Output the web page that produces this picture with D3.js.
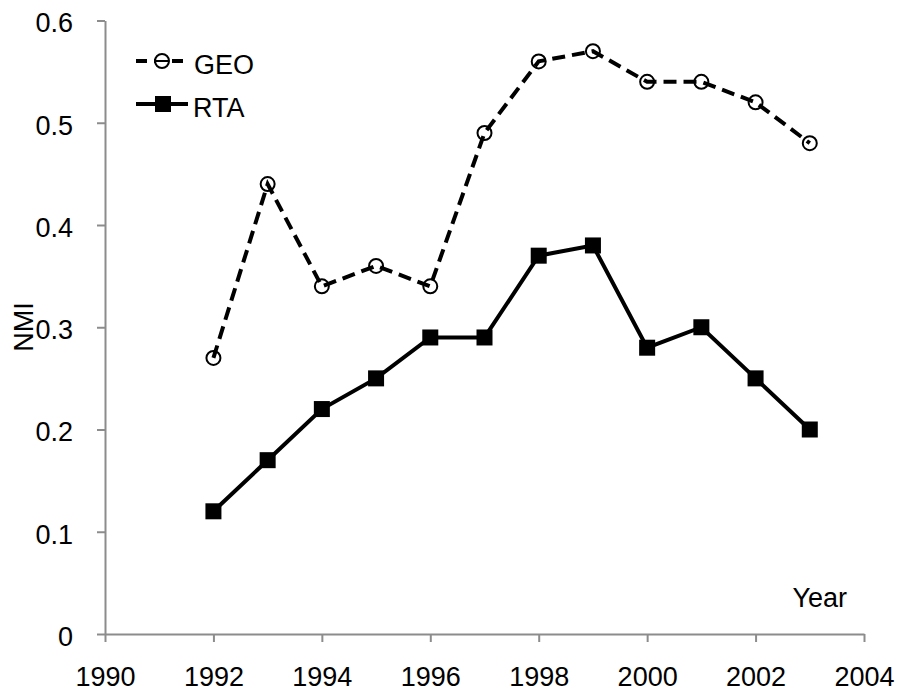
<!DOCTYPE html>
<html><head><meta charset="utf-8">
<script src="https://cdn.jsdelivr.net/npm/d3@7"></script>
<style>body{margin:0;background:#fff}svg{display:block}text{font-family:"Liberation Sans",Arial,sans-serif;fill:#000}</style>
</head><body><svg id="c" width="899" height="696"></svg>
<script>
const years = [1992,1993,1994,1995,1996,1997,1998,1999,2000,2001,2002,2003];
const geo = [0.27,0.44,0.34,0.36,0.34,0.49,0.56,0.57,0.54,0.54,0.52,0.48];
const rta = [0.12,0.17,0.22,0.25,0.29,0.29,0.37,0.38,0.28,0.30,0.25,0.20];
const xTicks = [1990,1992,1994,1996,1998,2000,2002,2004];
const yTicks = [0,0.1,0.2,0.3,0.4,0.5,0.6];
const FS = 27;

const svg = d3.select("#c");
const x = d3.scaleLinear().domain([1990,2004]).range([105,864]);
const y = d3.scaleLinear().domain([0,0.6]).range([634,20.5]);
const axisColor = "#8c8c8c";

const xa = svg.append("g").attr("transform","translate(0,634)")
  .call(d3.axisBottom(x).tickValues(xTicks).tickSize(8).tickSizeOuter(0).tickPadding(31).tickFormat(d3.format("d")));
const ya = svg.append("g").attr("transform","translate(105,0)")
  .call(d3.axisLeft(y).tickValues(yTicks).tickSize(8).tickSizeOuter(0).tickPadding(24).tickFormat(d=>d===0?"0":d3.format(".1f")(d)));
[xa,ya].forEach(a=>{
  a.attr("font-size",FS);
  a.selectAll("path,line").attr("stroke",axisColor).attr("stroke-width",2);
  a.selectAll("text").attr("font-size",FS).attr("fill","#000");
});
xa.selectAll("text").attr("dy","0.71em").attr("y",33);
ya.selectAll("text").attr("dy","0.42em");

svg.append("text").attr("x",847).attr("y",607).attr("text-anchor","end").attr("font-size",FS).text("Year");
svg.append("text").attr("transform","translate(33,327) rotate(-90)").attr("text-anchor","middle").attr("font-size",FS).text("NMI");

const line = d3.line().x((d,i)=>x(years[i])).y(d=>y(d));

svg.append("path").datum(rta).attr("d",line).attr("fill","none").attr("stroke","#000").attr("stroke-width",4);
svg.append("g").selectAll("rect").data(rta).join("rect")
  .attr("x",(d,i)=>x(years[i])-8).attr("y",d=>y(d)-8).attr("width",16).attr("height",16).attr("fill","#000");

svg.append("path").datum(geo).attr("d",line).attr("fill","none").attr("stroke","#000").attr("stroke-width",4).attr("stroke-dasharray","13,7");
svg.append("g").selectAll("circle").data(geo).join("circle")
  .attr("cx",(d,i)=>x(years[i])).attr("cy",d=>y(d)).attr("r",7).attr("fill","none").attr("stroke","#000").attr("stroke-width",2);

const lg = svg.append("g");
lg.append("line").attr("x1",136).attr("x2",184).attr("y1",61).attr("y2",61).attr("stroke","#000").attr("stroke-width",4).attr("stroke-dasharray","11,7");
lg.append("circle").attr("cx",162).attr("cy",61).attr("r",7).attr("fill","#fff").attr("stroke","#000").attr("stroke-width",2);
lg.append("line").attr("x1",156).attr("x2",168).attr("y1",61).attr("y2",61).attr("stroke","#000").attr("stroke-width",2);
lg.append("text").attr("x",194).attr("y",74).attr("font-size",FS).text("GEO");
lg.append("line").attr("x1",136).attr("x2",188).attr("y1",104).attr("y2",104).attr("stroke","#000").attr("stroke-width",4);
lg.append("rect").attr("x",155).attr("y",96).attr("width",16).attr("height",16).attr("fill","#000");
lg.append("text").attr("x",193).attr("y",117).attr("font-size",FS).text("RTA");
</script></body></html>
